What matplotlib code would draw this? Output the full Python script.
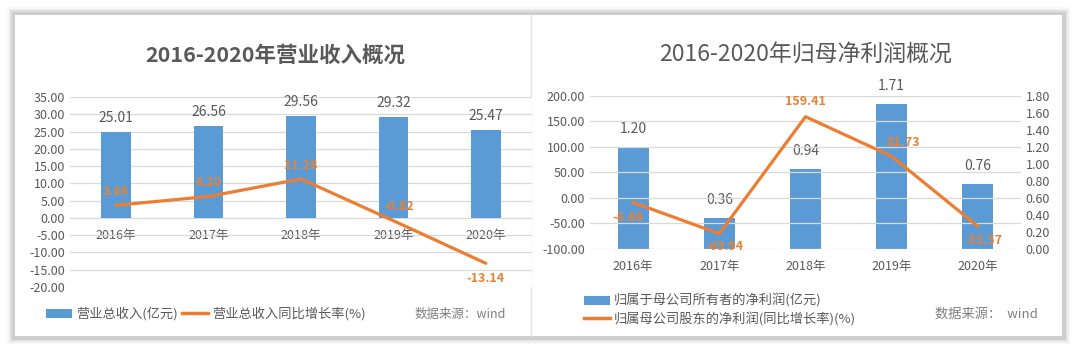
import matplotlib

matplotlib.use("Agg")
import matplotlib.pyplot as plt
from matplotlib.lines import Line2D
from matplotlib.patches import Patch, Rectangle
import numpy as np

plt.rcParams["font.family"] = ["Noto Sans CJK SC", "DejaVu Sans"]

YEARS = ["2016年", "2017年", "2018年", "2019年", "2020年"]

# left panel: revenue
REVENUE = [25.01, 26.56, 29.56, 29.32, 25.47]
REVENUE_GROWTH = [3.66, 6.20, 11.28, -0.82, -13.14]

# right panel: net profit attributable to parent
NET_PROFIT = [1.20, 0.36, 0.94, 1.71, 0.76]
NET_PROFIT_GROWTH = [-8.68, -69.94, 159.41, 81.73, -55.57]

BLUE = "#5B9BD5"
ORANGE = "#ED7D31"
LABEL_ORANGE = "#E3833A"
GRAY = "#595959"
GRID = "#D9D9D9"

W, H = 1080, 355


def px_axes(fig, x0, x1, y0, y1):
  return fig.add_axes([x0 / W, 1 - y1 / H, (x1 - x0) / W, (y1 - y0) / H])


def style(ax):
  for side in ("top", "right", "left", "bottom"):
    ax.spines[side].set_visible(False)
  ax.tick_params(length=0, colors=GRAY, labelsize=9)
  ax.grid(axis="y", color=GRID, linewidth=0.9)
  ax.set_axisbelow(True)


fig = plt.figure(figsize=(W / 100, H / 100), dpi=100)
fig.patch.set_facecolor("white")

# card with soft shadow
for i, a in enumerate([0.05, 0.08, 0.12, 0.18]):
  d = 6 - i * 1.5
  fig.patches.append(Rectangle(
      ((13 - d) / W, 1 - (338 + d) / H), (1051 + 2 * d) / W, (325 + 2 * d) / H,
      transform=fig.transFigure, facecolor="#808080", edgecolor="none",
      alpha=a, zorder=-10))
fig.patches.append(Rectangle(
    (15 / W, 1 - 336 / H), 1047 / W, 321 / H, transform=fig.transFigure,
    facecolor="white", edgecolor="none", zorder=-9))
fig.lines.append(Line2D([531 / W, 531 / W], [1 - 336 / H, 1 - 15 / H],
                        transform=fig.transFigure, color="#E3E3E3",
                        linewidth=1, zorder=-8))

x = np.arange(len(YEARS))

# ---- left panel
ax1 = px_axes(fig, 70, 532, 97, 287)
style(ax1)
ax1.bar(x, REVENUE, width=0.32, color=BLUE, zorder=2)
ax1.plot(x, REVENUE_GROWTH, color=ORANGE, linewidth=2.3, zorder=3,
         solid_capstyle="round")
ax1.set_xlim(-0.5, 4.5)
ax1.set_ylim(-20, 35)
ax1.set_yticks(np.arange(-20, 36, 5))
ax1.yaxis.set_major_formatter(lambda v, p: f"{v:.2f}")
ax1.spines["bottom"].set_position(("data", 0))
ax1.set_xticks(x)
ax1.set_xticklabels(YEARS)
ax1.tick_params(axis="x", pad=8)
for xi, v in zip(x, REVENUE):
  ax1.annotate(f"{v:.2f}", (xi, v), xytext=(0, 5), textcoords="offset points",
               ha="center", va="bottom", fontsize=10, color=GRAY)
rev_offsets = [(0, 10), (0, 10), (0, 10), (4, 10), (0, -11)]
for xi, v, (dx, dy) in zip(x, REVENUE_GROWTH, rev_offsets):
  ax1.annotate(f"{v:.2f}", (xi, v), xytext=(dx, dy), textcoords="offset points",
               ha="center", va="center", fontsize=9,
               color=LABEL_ORANGE, fontweight="bold", zorder=4)
fig.text(275 / W, 1 - 55 / H, "2016-2020年营业收入概况", ha="center",
         va="center", fontsize=15.5, fontweight="bold", color=GRAY)

fig.legend(
    handles=[Patch(facecolor=BLUE, edgecolor="none"),
             Line2D([], [], color=ORANGE, linewidth=2.5)],
    labels=["营业总收入(亿元)", "营业总收入同比增长率(%)"],
    loc="center left", bbox_to_anchor=(34 / W, 1 - 314 / H), ncol=2,
    frameon=False, fontsize=9.5, labelcolor=GRAY, handlelength=2.0,
    handletextpad=0.3, columnspacing=0.3)
fig.text(415 / W, 1 - 314 / H, "数据来源：wind", ha="left", va="center",
         fontsize=9, color="#7F7F7F")

# ---- right panel
ax2 = px_axes(fig, 590, 1021, 96, 249)
style(ax2)
ax3 = ax2.twinx()
for side in ("top", "right", "left", "bottom"):
  ax3.spines[side].set_visible(False)
ax3.tick_params(length=0, colors=GRAY, labelsize=9)
ax3.bar(x, NET_PROFIT, width=0.36, color=BLUE, zorder=2)
ax3.set_ylim(0, 1.8)
ax3.set_yticks(np.arange(0, 1.81, 0.2))
ax3.yaxis.set_major_formatter(lambda v, p: f"{v:.2f}")
for xi, v in zip(x, NET_PROFIT):
  ax3.annotate(f"{v:.2f}", (xi, v), xytext=(0, 8), textcoords="offset points",
               ha="center", va="bottom", fontsize=10, color=GRAY)

ax2.set_zorder(ax3.get_zorder() + 1)
ax2.patch.set_visible(False)
ax2.plot(x, NET_PROFIT_GROWTH, color=ORANGE, linewidth=2.3, zorder=3,
         solid_capstyle="round")
ax2.set_xlim(-0.5, 4.5)
ax2.set_ylim(-100, 200)
ax2.set_yticks(np.arange(-100, 201, 50))
ax2.yaxis.set_major_formatter(lambda v, p: f"{v:.2f}")
ax2.set_xticks(x)
ax2.set_xticklabels(YEARS)
ax2.tick_params(axis="x", pad=8)
growth_offsets = [(-4, -11), (4, -9), (0, 11), (8, 10), (4, -10)]
for xi, v, (dx, dy) in zip(x, NET_PROFIT_GROWTH, growth_offsets):
  ax2.annotate(f"{v:.2f}", (xi, v), xytext=(dx, dy), textcoords="offset points",
               ha="center", va="center", fontsize=9, color=LABEL_ORANGE,
               fontweight="bold", zorder=4)
fig.text(806 / W, 1 - 55 / H, "2016-2020年归母净利润概况", ha="center",
         va="center", fontsize=16.5, color=GRAY)

fig.legend(
    handles=[Patch(facecolor=BLUE, edgecolor="none"),
             Line2D([], [], color=ORANGE, linewidth=2.5)],
    labels=["归属于母公司所有者的净利润(亿元)", "归属母公司股东的净利润(同比增长率)(%)"],
    loc="center left", bbox_to_anchor=(572 / W, 1 - 310 / H), ncol=1,
    frameon=False, fontsize=9.5, labelcolor=GRAY, handlelength=2.0,
    handletextpad=0.3, labelspacing=0.3)
fig.text(935 / W, 1 - 314 / H, "数据来源：  wind", ha="left", va="center",
         fontsize=9.5, color="#7F7F7F")

fig.savefig("out.png", dpi=100)
